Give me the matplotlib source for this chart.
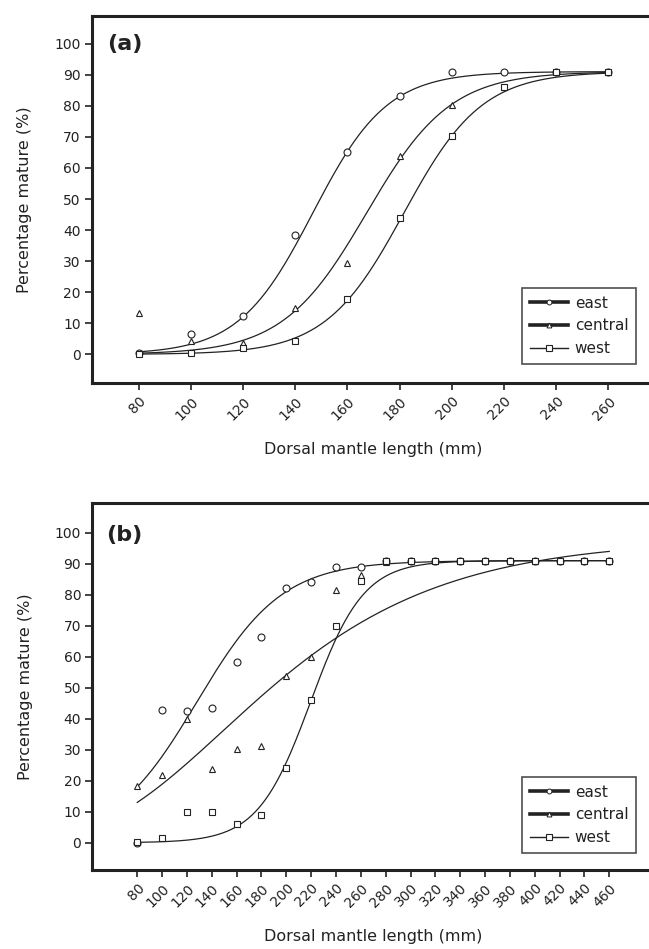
import numpy as np
import matplotlib
matplotlib.use("Agg")
import matplotlib.pyplot as plt
from matplotlib.lines import Line2D

# ---- data: percentage mature by dorsal mantle length ----
REGIONS = ["east", "central", "west"]

# (a)
dml_a = [80, 100, 120, 140, 160, 180, 200, 220, 240, 260]
east_a = [0.5, 6.5, 12.5, 38.5, 65, 83, 90.8, 90.8, 91, 91]
central_a = [13.3, 4.2, 3.6, 14.8, 29.4, 64, 80.3, 86.2, 91, 91]
west_a = [0, 0.3, 2, 4.3, 17.8, 43.9, 70.4, 86.2, 91, 91]

# (b)
dml_b = [80, 100, 120, 140, 160, 180, 200, 220, 240, 260, 280, 300,
         320, 340, 360, 380, 400, 420, 440, 460]
east_b = [0, 42.9, 42.5, 43.4, 58.2, 66.3, 82.1, 84.2, 88.8, 89.1, 91, 91,
          91, 91, 91, 91, 91, 91, 91, 91]
central_b = [18.3, 21.8, 39.8, 23.7, 30.1, 31.2, 53.8, 60, 81.6, 86.4, 90.5,
             91, 91, 91, 91, 91, 91, 91, 91, 91]
west_b = [0.2, 1.4, 10, 9.8, 6.1, 8.9, 24.2, 46.2, 69.8, 84.5, 90.8, 91,
          91, 91, 91, 91, 91, 91, 91, 91]

# fitted maturity ogives: logistic (asymptote, slope, L50)
fit_a = {"east": (91, 0.0703, 146.7),
         "central": (91, 0.0623, 167.3),
         "west": (91, 0.0668, 181.6)}
fit_b_logistic = {"east": (91, 0.0291, 128.1),
                  "west": (91, 0.047, 219.6)}
# central (b) follows a Gompertz form (asymptote, ln b, slope)
fit_b_gompertz = (98, 1.519, 0.0102)

y_ticks = list(range(0, 101, 10))

MARKERS = {"east": "o", "central": "^", "west": "s"}
MSIZE = {"east": 5.0, "central": 5.0, "west": 4.6}
INK = "#222222"


def logistic(x, a, k, l50):
    return a / (1.0 + np.exp(-k * (x - l50)))


def gompertz(x, a, lnb, k):
    return a * np.exp(-np.exp(lnb - k * x))


plt.rcParams["font.family"] = "DejaVu Sans"
plt.rcParams["text.color"] = INK
plt.rcParams["axes.labelcolor"] = INK

fig = plt.figure(figsize=(6.49, 9.49), dpi=100)
W, H = 649.0, 949.0


def style_axes(ax, xticks):
    for side in ("left", "bottom", "top"):
        ax.spines[side].set_linewidth(2.2)
        ax.spines[side].set_color(INK)
    ax.spines["right"].set_visible(False)
    ax.set_xticks(xticks)
    ax.set_xticklabels([str(t) for t in xticks], rotation=45, ha="right",
                       rotation_mode="anchor")
    ax.set_yticks(y_ticks)
    ax.tick_params(direction="out", length=5, width=1.2, color=INK,
                   labelsize=10, labelcolor=INK, pad=3,
                   top=False, right=False)
    ax.set_xlabel("Dorsal mantle length (mm)", fontsize=11.5)
    ax.set_ylabel("Percentage mature (%)", fontsize=11.5)
    ax.yaxis.set_label_coords(-0.105, 0.5)
    ax.xaxis.set_label_coords(0.494, -0.16)


def draw_points(ax, x, ys):
    for name, y in zip(REGIONS, ys):
        ax.plot(x, y, linestyle="none", marker=MARKERS[name],
                markersize=MSIZE[name], markerfacecolor="white",
                markeredgecolor=INK, markeredgewidth=0.8, zorder=3)


def add_legend(ax, top_px):
    handles = [
        Line2D([], [], color=INK, lw=2.6, marker="o", markersize=3.5,
               markerfacecolor="white", markeredgecolor=INK, markeredgewidth=0.7),
        Line2D([], [], color=INK, lw=2.6, marker="^", markersize=3.5,
               markerfacecolor="white", markeredgecolor=INK, markeredgewidth=0.7),
        Line2D([], [], color=INK, lw=1.0, marker="s", markersize=5,
               markerfacecolor="white", markeredgecolor=INK, markeredgewidth=0.8),
    ]
    leg = ax.legend(handles, REGIONS, loc="upper right",
                    bbox_to_anchor=(636 / W, 1 - top_px / H),
                    bbox_transform=fig.transFigure, borderaxespad=0,
                    fontsize=11, frameon=True, fancybox=False,
                    handlelength=2.5, handletextpad=0.45, labelspacing=0.5,
                    borderpad=0.5)
    leg.get_frame().set_edgecolor(INK)
    leg.get_frame().set_linewidth(1.2)


# ---- panel (a) ----
ax_a = fig.add_axes([91.7 / W, 1 - 383 / H, 569 / W, 367 / H])
ax_a.set_xlim(62, 280)
ax_a.set_ylim(-9.2, 108.9)
xs = np.linspace(80, 260, 300)
for name in REGIONS:
    ax_a.plot(xs, logistic(xs, *fit_a[name]), color=INK, lw=0.9, zorder=2)
draw_points(ax_a, dml_a, [east_a, central_a, west_a])
style_axes(ax_a, dml_a)
ax_a.text(68, 103, "(a)", fontsize=16, fontweight="bold", va="top", ha="left")
add_legend(ax_a, 288)

# ---- panel (b) ----
ax_b = fig.add_axes([92.3 / W, 1 - 870 / H, 566.6 / W, 366.7 / H])
ax_b.set_xlim(43.8, 500)
ax_b.set_ylim(-8.8, 109.5)
xs = np.linspace(80, 460, 400)
ax_b.plot(xs, logistic(xs, *fit_b_logistic["east"]), color=INK, lw=0.9, zorder=2)
ax_b.plot(xs, gompertz(xs, *fit_b_gompertz), color=INK, lw=0.9, zorder=2)
ax_b.plot(xs, logistic(xs, *fit_b_logistic["west"]), color=INK, lw=0.9, zorder=2)
draw_points(ax_b, dml_b, [east_b, central_b, west_b])
style_axes(ax_b, dml_b)
ax_b.xaxis.set_label_coords(0.495, -0.162)
ax_b.text(54.8, 102.5, "(b)", fontsize=16, fontweight="bold", va="top", ha="left")
add_legend(ax_b, 777)

fig.savefig("out.png", dpi=100)
